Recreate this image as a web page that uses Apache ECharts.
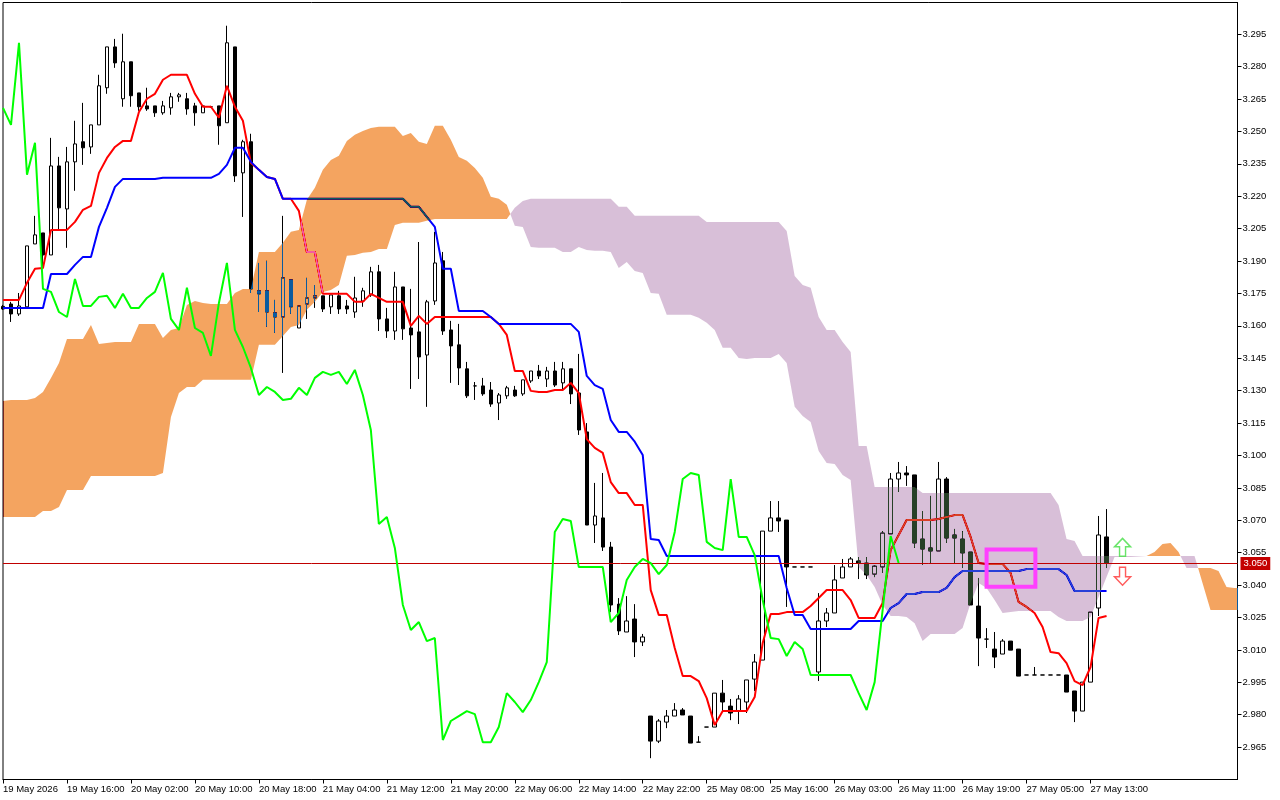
<!DOCTYPE html>
<html>
<head>
<meta charset="utf-8">
<title>Ichimoku</title>
<script src="https://cdn.jsdelivr.net/npm/echarts@6/dist/echarts.min.js"></script>
<style>
  html, body { margin: 0; padding: 0; background: #fff; }
  #chart { width: 1280px; height: 800px; }
</style>
</head>
<body>
<div id="chart"></div>
<script>
const timeLabels = ['19 May 2026', '19 May 16:00', '20 May 02:00', '20 May 10:00', '20 May 18:00', '21 May 04:00',
  '21 May 12:00', '21 May 20:00', '22 May 06:00', '22 May 14:00', '22 May 22:00', '25 May 08:00',
  '25 May 16:00', '26 May 03:00', '26 May 11:00', '26 May 19:00', '27 May 05:00', '27 May 13:00'];
const timeTickBars = [0, 8, 16, 24, 32, 40, 48, 56, 64, 72, 80, 88, 96, 104, 112, 120, 128, 136];
const priceTicks = [2.965, 2.98, 2.995, 3.01, 3.025, 3.04, 3.055, 3.07, 3.085, 3.1, 3.115, 3.13, 3.145, 3.16,
  3.175, 3.19, 3.205, 3.22, 3.235, 3.25, 3.265, 3.28, 3.295];

const opens = [
  3.1690, 3.1701, 3.1655, 3.1688, 3.1979, 3.2030, 3.1928, 3.2340, 3.2141, 3.2359,
  3.2452, 3.2428, 3.2530, 3.2702, 3.2891, 3.2651, 3.2822, 3.2678, 3.2618, 3.2618,
  3.2586, 3.2609, 3.2660, 3.2651, 3.2618, 3.2586, 3.2614, 3.2618, 3.2540, 3.2891,
  3.2308, 3.2452, 3.1762, 3.1762, 3.1660, 3.1641, 3.1813, 3.1590, 3.1701, 3.1729,
  3.1739, 3.1688, 3.1739, 3.1692, 3.1664, 3.1715, 3.1743, 3.1850, 3.1632, 3.1576,
  3.1780, 3.1590, 3.1572, 3.1465, 3.1715, 3.1901, 3.1581, 3.1512, 3.1401, 3.1322,
  3.1322, 3.1303, 3.1243, 3.1276, 3.1303, 3.1285, 3.1345, 3.1391, 3.1354, 3.1391,
  3.1336, 3.1401, 3.1289, 3.1109, 3.0678, 3.0711, 3.0576, 3.0312, 3.0183, 3.0243,
  3.0137, 2.9794, 2.9678, 2.9766, 2.9794, 2.9822, 2.9794, 2.9673, 2.9743, 2.9743,
  2.9900, 2.9840, 2.9817, 2.9859, 2.9965, 3.0053, 3.0650, 3.0711, 3.0701, 3.0484,
  3.0484, 3.0484, 2.9998, 3.0234, 3.0271, 3.0433, 3.0484, 3.0512, 3.0502, 3.0451,
  3.0484, 3.0637, 3.0891, 3.0919, 3.0910, 3.0613, 3.0572, 3.0558, 3.0891, 3.0632,
  3.0613, 3.0553, 3.0303, 3.0150, 3.0104, 3.0081, 3.0141, 3.0104, 2.9984, 2.9984,
  2.9984, 2.9984, 2.9984, 2.9984, 2.9910, 2.9817, 2.9951, 3.0294, 3.0623];
const closes = [
  3.1678, 3.1655, 3.1692, 3.1970, 3.2021, 3.1928, 3.2340, 3.2146, 3.2359, 3.2442,
  3.2424, 3.2530, 3.2711, 3.2891, 3.2817, 3.2822, 3.2665, 3.2614, 3.2604, 3.2586,
  3.2618, 3.2660, 3.2669, 3.2604, 3.2586, 3.2618, 3.2614, 3.2526, 3.2910, 3.2294,
  3.2452, 3.1771, 3.1748, 3.1664, 3.1641, 3.1822, 3.1688, 3.1692, 3.1729, 3.1739,
  3.1678, 3.1743, 3.1678, 3.1678, 3.1729, 3.1762, 3.1850, 3.1632, 3.1576, 3.1780,
  3.1586, 3.1558, 3.1456, 3.1711, 3.1891, 3.1576, 3.1507, 3.1405, 3.1276, 3.1322,
  3.1285, 3.1238, 3.1280, 3.1313, 3.1276, 3.1350, 3.1391, 3.1368, 3.1391, 3.1326,
  3.1401, 3.1285, 3.1118, 3.0678, 3.0720, 3.0576, 3.0308, 3.0188, 3.0234, 3.0137,
  3.0160, 2.9678, 2.9771, 2.9794, 2.9822, 2.9799, 2.9669, 2.9673, 2.9743, 2.9900,
  2.9859, 2.9808, 2.9873, 2.9961, 3.0044, 3.0650, 3.0711, 3.0697, 3.0484, 3.0484,
  3.0484, 3.0484, 3.0234, 3.0271, 3.0424, 3.0484, 3.0521, 3.0502, 3.0447, 3.0488,
  3.0641, 3.0891, 3.0919, 3.0910, 3.0595, 3.0567, 3.0558, 3.0891, 3.0618, 3.0618,
  3.0549, 3.0308, 3.0155, 3.0150, 3.0067, 3.0141, 3.0099, 2.9979, 2.9984, 2.9984,
  2.9984, 2.9984, 2.9984, 2.9905, 2.9817, 2.9951, 3.0275, 3.0632, 3.0500];
const highs = [
  3.1697, 3.1711, 3.1752, 3.1970, 3.2109, 3.2030, 3.2470, 3.2382, 3.2428, 3.2549,
  3.2632, 3.2530, 3.2762, 3.2891, 3.2928, 3.2952, 3.2822, 3.2678, 3.2702, 3.2618,
  3.2641, 3.2678, 3.2678, 3.2678, 3.2632, 3.2618, 3.2618, 3.2618, 3.2989, 3.2891,
  3.2461, 3.2489, 3.1891, 3.1901, 3.1720, 3.2109, 3.1813, 3.1692, 3.1822, 3.1789,
  3.1739, 3.1743, 3.1762, 3.1720, 3.1827, 3.1776, 3.1873, 3.1882, 3.1683, 3.1850,
  3.1780, 3.1771, 3.1988, 3.1720, 3.2035, 3.1942, 3.1623, 3.1609, 3.1433, 3.1340,
  3.1359, 3.1340, 3.1289, 3.1322, 3.1322, 3.1350, 3.1391, 3.1419, 3.1410, 3.1433,
  3.1433, 3.1401, 3.1470, 3.1150, 3.0873, 3.0919, 3.0600, 3.0340, 3.0349, 3.0312,
  3.0174, 2.9794, 2.9780, 2.9822, 2.9854, 2.9831, 2.9794, 2.9701, 2.9743, 2.9900,
  2.9961, 2.9873, 2.9891, 2.9961, 3.0081, 3.0650, 3.0789, 3.0789, 3.0701, 3.0484,
  3.0484, 3.0484, 3.0363, 3.0294, 3.0493, 3.0521, 3.0530, 3.0530, 3.0530, 3.0493,
  3.0650, 3.0919, 3.0970, 3.0951, 3.0910, 3.0743, 3.0813, 3.0970, 3.0900, 3.0660,
  3.0650, 3.0553, 3.0433, 3.0201, 3.0183, 3.0150, 3.0141, 3.0104, 2.9984, 3.0021,
  2.9984, 2.9984, 2.9984, 2.9984, 2.9910, 2.9951, 3.0275, 3.0720, 3.0752];
const lows = [
  3.1674, 3.1618, 3.1646, 3.1688, 3.1979, 3.1873, 3.1928, 3.2044, 3.1961, 3.2225,
  3.2345, 3.2396, 3.2530, 3.2674, 3.2794, 3.2614, 3.2614, 3.2595, 3.2595, 3.2567,
  3.2577, 3.2577, 3.2637, 3.2577, 3.2526, 3.2586, 3.2609, 3.2438, 3.2540, 3.2266,
  3.2104, 3.1752, 3.1664, 3.1595, 3.1567, 3.1382, 3.1655, 3.1590, 3.1632, 3.1683,
  3.1664, 3.1655, 3.1655, 3.1655, 3.1637, 3.1688, 3.1734, 3.1576, 3.1544, 3.1535,
  3.1535, 3.1308, 3.1354, 3.1225, 3.1697, 3.1558, 3.1336, 3.1326, 3.1266, 3.1257,
  3.1276, 3.1225, 3.1164, 3.1262, 3.1271, 3.1276, 3.1336, 3.1354, 3.1317, 3.1317,
  3.1303, 3.1238, 3.1095, 3.0678, 3.0595, 3.0558, 3.0275, 3.0169, 3.0183, 3.0067,
  3.0118, 2.9599, 2.9669, 2.9738, 2.9794, 2.9799, 2.9669, 2.9673, 2.9743, 2.9743,
  2.9817, 2.9775, 2.9757, 2.9808, 2.9910, 3.0053, 3.0650, 3.0646, 3.0299, 3.0484,
  3.0484, 3.0484, 2.9956, 3.0206, 3.0271, 3.0433, 3.0484, 3.0428, 3.0428, 3.0437,
  3.0456, 3.0637, 3.0831, 3.0859, 3.0572, 3.0493, 3.0498, 3.0558, 3.0595, 3.0498,
  3.0479, 3.0308, 3.0025, 3.0109, 3.0016, 3.0081, 3.0099, 2.9979, 2.9984, 2.9984,
  2.9984, 2.9984, 2.9984, 2.9905, 2.9766, 2.9817, 2.9951, 3.0257, 3.0479];

const tenkan = [
  3.1720, 3.1720, 3.1720, 3.1799, 3.1864, 3.1868, 3.2044, 3.2044, 3.2044, 3.2081,
  3.2137, 3.2155, 3.2308, 3.2377, 3.2428, 3.2456, 3.2456, 3.2590, 3.2651, 3.2674,
  3.2739, 3.2762, 3.2762, 3.2762, 3.2674, 3.2614, 3.2614, 3.2563, 3.2711, 3.2614,
  3.2549, 3.2354, 3.2322, 3.2289, 3.2280, 3.2188, 3.2188, 3.2132, 3.1942, 3.1942,
  3.1748, 3.1748, 3.1748, 3.1748, 3.1711, 3.1711, 3.1748, 3.1729, 3.1711, 3.1711,
  3.1711, 3.1600, 3.1646, 3.1609, 3.1641, 3.1641, 3.1641, 3.1641, 3.1641, 3.1641,
  3.1641, 3.1641, 3.1609, 3.1558, 3.1391, 3.1391, 3.1299, 3.1294, 3.1294, 3.1303,
  3.1303, 3.1336, 3.1289, 3.1076, 3.1035, 3.1012, 3.0877, 3.0826, 3.0826, 3.0771,
  3.0771, 3.0377, 3.0262, 3.0262, 3.0109, 2.9979, 2.9979, 2.9956, 2.9877, 2.9752,
  2.9817, 2.9817, 2.9817, 2.9817, 2.9882, 3.0132, 3.0266, 3.0266, 3.0275, 3.0275,
  3.0275, 3.0303, 3.0340, 3.0377, 3.0377, 3.0377, 3.0331, 3.0248, 3.0248, 3.0248,
  3.0317, 3.0562, 3.0632, 3.0701, 3.0701, 3.0701, 3.0701, 3.0706, 3.0715, 3.0724,
  3.0724, 3.0623, 3.0502, 3.0498, 3.0498, 3.0498, 3.0456, 3.0322, 3.0299, 3.0271,
  3.0206, 3.0090, 3.0085, 3.0039, 2.9956, 2.9937, 3.0021, 3.0248, 3.0257];
const kijun = [
  3.1683, 3.1683, 3.1683, 3.1683, 3.1683, 3.1683, 3.1840, 3.1840, 3.1840, 3.1882,
  3.1919, 3.1919, 3.2058, 3.2146, 3.2243, 3.2280, 3.2280, 3.2280, 3.2280, 3.2280,
  3.2285, 3.2285, 3.2285, 3.2285, 3.2285, 3.2285, 3.2285, 3.2303, 3.2345, 3.2424,
  3.2424, 3.2359, 3.2322, 3.2289, 3.2280, 3.2188, 3.2188, 3.2188, 3.2188, 3.2188,
  3.2188, 3.2188, 3.2188, 3.2188, 3.2188, 3.2188, 3.2188, 3.2188, 3.2188, 3.2188,
  3.2188, 3.2151, 3.2151, 3.2104, 3.2058, 3.1864, 3.1864, 3.1669, 3.1669, 3.1669,
  3.1669, 3.1641, 3.1609, 3.1609, 3.1609, 3.1609, 3.1609, 3.1609, 3.1609, 3.1609,
  3.1609, 3.1609, 3.1572, 3.1368, 3.1326, 3.1308, 3.1164, 3.1109, 3.1109, 3.1064,
  3.1002, 3.0613, 3.0609, 3.0535, 3.0535, 3.0535, 3.0535, 3.0535, 3.0535, 3.0535,
  3.0535, 3.0535, 3.0535, 3.0535, 3.0535, 3.0535, 3.0535, 3.0535, 3.0387, 3.0262,
  3.0262, 3.0197, 3.0197, 3.0197, 3.0197, 3.0197, 3.0197, 3.0234, 3.0234, 3.0234,
  3.0234, 3.0294, 3.0317, 3.0359, 3.0359, 3.0368, 3.0368, 3.0368, 3.0387, 3.0437,
  3.0465, 3.0465, 3.0465, 3.0465, 3.0465, 3.0465, 3.0465, 3.0465, 3.0474, 3.0474,
  3.0474, 3.0474, 3.0474, 3.0447, 3.0373, 3.0373, 3.0373, 3.0373, 3.0373];
const chikou = [
  3.2609, 3.2530, 3.2910, 3.2299, 3.2447, 3.1771, 3.1757, 3.1664, 3.1641, 3.1817,
  3.1692, 3.1692, 3.1734, 3.1739, 3.1683, 3.1748, 3.1683, 3.1683, 3.1729, 3.1757,
  3.1845, 3.1632, 3.1581, 3.1776, 3.1590, 3.1567, 3.1461, 3.1706, 3.1891, 3.1581,
  3.1502, 3.1405, 3.1280, 3.1317, 3.1294, 3.1257, 3.1262, 3.1313, 3.1280, 3.1359,
  3.1387, 3.1373, 3.1387, 3.1331, 3.1396, 3.1280, 3.1118, 3.0683, 3.0715, 3.0572,
  3.0308, 3.0192, 3.0229, 3.0141, 3.0155, 2.9683, 2.9771, 2.9794, 2.9817, 2.9803,
  2.9673, 2.9673, 2.9743, 2.9900, 2.9859, 2.9812, 2.9868, 2.9951, 3.0044, 3.0646,
  3.0706, 3.0697, 3.0484, 3.0484, 3.0484, 3.0484, 3.0229, 3.0271, 3.0424, 3.0484,
  3.0521, 3.0502, 3.0451, 3.0493, 3.0646, 3.0891, 3.0919, 3.0910, 3.0600, 3.0572,
  3.0562, 3.0891, 3.0623, 3.0623, 3.0539, 3.0331, 3.0155, 3.0150, 3.0072, 3.0137,
  3.0104, 2.9984, 2.9984, 2.9984, 2.9984, 2.9984, 2.9984, 2.9900, 2.9822, 2.9951,
  3.0285, 3.0627, 3.0502];
const spanA = [
  3.1252, 3.1257, 3.1257, 3.1257, 3.1266, 3.1294, 3.1359, 3.1428, 3.1539, 3.1539,
  3.1539, 3.1604, 3.1516, 3.1521, 3.1525, 3.1525, 3.1525, 3.1609, 3.1609, 3.1609,
  3.1544, 3.1581, 3.1590, 3.1697, 3.1715, 3.1706, 3.1701, 3.1701, 3.1701, 3.1752,
  3.1771, 3.1771, 3.1942, 3.1942, 3.1942, 3.1984, 3.2035, 3.2044, 3.2183, 3.2239,
  3.2322, 3.2368, 3.2387, 3.2456, 3.2484, 3.2502, 3.2516, 3.2521, 3.2521, 3.2521,
  3.2479, 3.2493, 3.2452, 3.2442, 3.2526, 3.2526, 3.2461, 3.2382, 3.2364, 3.2331,
  3.2285, 3.2197, 3.2188, 3.2160, 3.2063, 3.2058, 3.1965, 3.1961, 3.1961, 3.1961,
  3.1942, 3.1942, 3.1965, 3.1951, 3.1947, 3.1947, 3.1942, 3.1868, 3.1896, 3.1854,
  3.1845, 3.1752, 3.1748, 3.1651, 3.1651, 3.1651, 3.1651, 3.1637, 3.1614, 3.1581,
  3.1498, 3.1498, 3.1451, 3.1447, 3.1451, 3.1451, 3.1451, 3.1470, 3.1428, 3.1225,
  3.1183, 3.1155, 3.1021, 3.0965, 3.0961, 3.0910, 3.0887, 3.0484, 3.0447, 3.0391,
  3.0308, 3.0257, 3.0257, 3.0252, 3.0224, 3.0141, 3.0174, 3.0174, 3.0174, 3.0174,
  3.0201, 3.0317, 3.0410, 3.0387, 3.0331, 3.0271, 3.0275, 3.0280, 3.0280, 3.0280,
  3.0280, 3.0280, 3.0252, 3.0234, 3.0234, 3.0234, 3.0252, 3.0345, 3.0437, 3.0530,
  3.0530, 3.0530, 3.0532, 3.0535, 3.0553, 3.0590, 3.0595, 3.0553, 3.0479, 3.0479,
  3.0479, 3.0479, 3.0465, 3.0391, 3.0387, 3.0387];
const spanB = [
  3.0715, 3.0715, 3.0715, 3.0715, 3.0715, 3.0743, 3.0743, 3.0762, 3.0840, 3.0840,
  3.0840, 3.0905, 3.0905, 3.0905, 3.0905, 3.0905, 3.0905, 3.0905, 3.0905, 3.0905,
  3.0919, 3.1178, 3.1289, 3.1317, 3.1317, 3.1350, 3.1350, 3.1350, 3.1350, 3.1350,
  3.1350, 3.1350, 3.1512, 3.1512, 3.1512, 3.1553, 3.1595, 3.1604, 3.1674, 3.1711,
  3.1757, 3.1766, 3.1789, 3.1924, 3.1928, 3.1938, 3.1942, 3.1956, 3.1956, 3.2067,
  3.2077, 3.2077, 3.2077, 3.2086, 3.2095, 3.2095, 3.2095, 3.2095, 3.2095, 3.2095,
  3.2095, 3.2095, 3.2095, 3.2095, 3.2146, 3.2178, 3.2188, 3.2188, 3.2188, 3.2188,
  3.2188, 3.2188, 3.2188, 3.2188, 3.2188, 3.2188, 3.2188, 3.2151, 3.2151, 3.2109,
  3.2109, 3.2109, 3.2109, 3.2109, 3.2109, 3.2109, 3.2109, 3.2109, 3.2081, 3.2081,
  3.2081, 3.2081, 3.2081, 3.2081, 3.2081, 3.2081, 3.2081, 3.2081, 3.2039, 3.1831,
  3.1789, 3.1776, 3.1641, 3.1581, 3.1581, 3.1525, 3.1479, 3.1044, 3.1044, 3.0854,
  3.0854, 3.0854, 3.0854, 3.0854, 3.0854, 3.0826, 3.0826, 3.0826, 3.0826, 3.0826,
  3.0826, 3.0826, 3.0826, 3.0826, 3.0826, 3.0826, 3.0826, 3.0826, 3.0826, 3.0826,
  3.0826, 3.0826, 3.0771, 3.0613, 3.0604, 3.0535, 3.0535, 3.0535, 3.0535, 3.0535,
  3.0535, 3.0535, 3.0535, 3.0535, 3.0535, 3.0535, 3.0535, 3.0535, 3.0535, 3.0535,
  3.0410, 3.0285, 3.0285, 3.0285, 3.0285, 3.0285];

const lastPrice = 3.05;
const upArrow = [140, 3.0575];
const downArrow = [140, 3.0441];
const boxBars = [123, 129.1];
const boxPrices = [3.0392, 3.0565];

// the terminal paints the kumo in xor mode, 'difference' with the inverted colour gives the same result on
// black, white, red and blue pixels
const KUMO_UP = '#0b5b9f';   // shows as sandybrown on white
const KUMO_DOWN = '#274027'; // shows as thistle on white

function withIndex(values) {
  return values.map(function (v, i) { return [i, v]; });
}

// split the band into polygons wherever span A crosses span B
function buildKumo() {
  const regions = [];
  let top = [], bottom = [], up = spanA[0] >= spanB[0];
  for (let i = 0; i < spanA.length; i++) {
    const nowUp = spanA[i] >= spanB[i];
    if (nowUp !== up) {
      const d0 = spanA[i - 1] - spanB[i - 1];
      const d1 = spanA[i] - spanB[i];
      const t = d0 / (d0 - d1);
      const cross = [i - 1 + t, spanA[i - 1] + (spanA[i] - spanA[i - 1]) * t];
      top.push(cross);
      regions.push({ up: up, points: top.concat(bottom.reverse()) });
      top = [cross];
      bottom = [];
      up = nowUp;
    }
    top.push([i, spanA[i]]);
    bottom.push([i, spanB[i]]);
  }
  regions.push({ up: up, points: top.concat(bottom.reverse()) });
  return regions;
}

const kumoRegions = buildKumo();

const chart = echarts.init(document.getElementById('chart'));
const axisFont = { color: '#000', fontFamily: 'Liberation Sans', fontSize: 9.5 };

chart.setOption({
  animation: false,
  backgroundColor: '#fff',
  grid: { left: 2.5, right: 42.5, top: 2.5, bottom: 20.5, show: true, borderColor: '#000', borderWidth: 1, backgroundColor: '#fff' },
  xAxis: {
    type: 'value',
    min: 0,
    max: 154.375,
    splitLine: { show: false },
    axisLine: { show: true, onZero: false, lineStyle: { color: '#000', width: 1 } },
    axisTick: { show: true, length: 4, customValues: timeTickBars, lineStyle: { color: '#000' } },
    axisLabel: Object.assign({
      customValues: timeTickBars,
      align: 'left',
      margin: 5,
      hideOverlap: false,
      showMinLabel: true,
      showMaxLabel: true,
      formatter: function (v) { return timeLabels[v / 8]; }
    }, axisFont)
  },
  yAxis: {
    type: 'value',
    position: 'right',
    min: 2.95003,
    max: 3.30965,
    splitLine: { show: false },
    axisLine: { show: true, onZero: false, lineStyle: { color: '#000', width: 1 } },
    axisTick: { show: true, length: 4, customValues: priceTicks, lineStyle: { color: '#000' } },
    axisLabel: Object.assign({
      customValues: priceTicks,
      margin: 5,
      padding: [2, 0, 0, 0],
      formatter: function (v) { return v.toFixed(3); }
    }, axisFont)
  },
  series: [
    {
      name: 'candles',
      type: 'candlestick',
      z: 2,
      silent: true,
      barWidth: 4,
      encode: { x: 0, y: [1, 2, 3, 4] },
      itemStyle: { color: '#fff', color0: '#000', borderColor: '#000', borderColor0: '#000', borderColorDoji: '#000', borderWidth: 1 },
      data: opens.map(function (o, i) { return [i, o, closes[i], lows[i], highs[i]]; })
    },
    {
      name: 'tenkan',
      type: 'line',
      z: 3,
      silent: true,
      showSymbol: false,
      lineStyle: { color: '#ff0000', width: 2 },
      data: withIndex(tenkan)
    },
    {
      name: 'kijun',
      type: 'line',
      z: 3,
      silent: true,
      showSymbol: false,
      lineStyle: { color: '#0000ff', width: 2 },
      data: withIndex(kijun)
    },
    {
      name: 'kumo',
      type: 'custom',
      z: 4,
      silent: true,
      clip: true,
      blendMode: 'difference',
      data: kumoRegions.map(function (r, i) { return [r.points[0][0], i]; }),
      renderItem: function (params, api) {
        const region = kumoRegions[params.dataIndex];
        return {
          type: 'polygon',
          shape: { points: region.points.map(function (p) { return api.coord(p); }) },
          style: { fill: region.up ? KUMO_UP : KUMO_DOWN }
        };
      }
    },
    {
      name: 'chikou',
      type: 'line',
      z: 5,
      silent: true,
      showSymbol: false,
      lineStyle: { color: '#00ff00', width: 2 },
      data: withIndex(chikou)
    },
    {
      name: 'price',
      type: 'line',
      z: 6,
      silent: true,
      showSymbol: false,
      data: [],
      markLine: {
        silent: true,
        animation: false,
        symbol: 'none',
        lineStyle: { color: '#c00000', width: 1, type: 'solid' },
        label: {
          show: true,
          position: 'end',
          distance: 3,
          formatter: lastPrice.toFixed(3),
          color: '#fff',
          backgroundColor: '#c40000',
          padding: [2, 3, 1, 3],
          fontFamily: axisFont.fontFamily,
          fontSize: axisFont.fontSize
        },
        data: [{ yAxis: lastPrice }]
      }
    },
    {
      name: 'box',
      type: 'custom',
      z: 7,
      silent: true,
      data: [[boxBars[0], boxPrices[0], boxBars[1], boxPrices[1]]],
      renderItem: function (params, api) {
        const a = api.coord([api.value(0), api.value(3)]);
        const b = api.coord([api.value(2), api.value(1)]);
        return {
          type: 'rect',
          shape: { x: a[0], y: a[1], width: b[0] - a[0], height: b[1] - a[1] },
          style: { fill: 'none', stroke: '#ff40ff', lineWidth: 4 }
        };
      }
    },
    {
      name: 'buy',
      type: 'scatter',
      z: 8,
      silent: true,
      symbol: 'path://M8 0 L16 9 L11 9 L11 19 L5 19 L5 9 L0 9 Z',
      symbolSize: [16, 18],
      itemStyle: { color: '#fff', borderColor: '#44dd44', borderWidth: 1.5 },
      data: [upArrow]
    },
    {
      name: 'sell',
      type: 'scatter',
      z: 8,
      silent: true,
      symbol: 'path://M5 0 L11 0 L11 10 L16 10 L8 19 L0 10 L5 10 Z',
      symbolSize: [16, 18],
      itemStyle: { color: '#fff', borderColor: '#ff3333', borderWidth: 1.5 },
      data: [downArrow]
    }
  ]
});
</script>
</body>
</html>
